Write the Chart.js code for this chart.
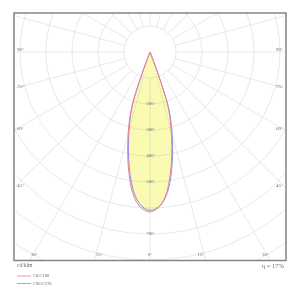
<!DOCTYPE html>
<html><head><meta charset="utf-8">
<script src="https://cdn.jsdelivr.net/npm/chart.js@4/dist/chart.umd.min.js"></script>
<style>html,body{margin:0;padding:0;background:#fff;}#wrap{width:300px;height:298px;position:relative}</style>
</head><body><div id="wrap"><canvas id="c" width="300" height="298"></canvas></div>
<script>
// gamma angles (deg from nadir) and intensities (cd/klm)
const gammaDeg = [0, 2, 4, 6, 8, 10, 12, 14, 16, 17, 18, 19, 20, 21, 22];
const c0   = [615, 608, 590, 560, 515, 460, 402, 344, 288, 260, 228, 185, 100, 25, 0];
const c180 = [615, 609, 594, 566, 524, 469, 412, 353, 296, 268, 236, 195, 110, 30, 0];
const c90  = [609, 604, 590, 564, 524, 472, 416, 358, 300, 272, 242, 200, 115, 32, 0];
const c270 = [609, 602, 584, 554, 510, 456, 398, 340, 284, 256, 224, 180, 96, 24, 0];
const seriesNames = ['C0/C180', 'C90/C270'];
const seriesColors = ['#f0809a', '#8c8cf0'];
const ringValues = [100, 200, 300, 400, 500, 600, 700, 800, 900, 1000, 1100];
const ringLabelValues = [200, 300, 400, 500, 700];
const spokeStepDeg = 15;
const sideAngleLabels = [90, 75, 60, 45];
const bottomAngleLabels = [30, 15, 0, 15, 30];
const bottomAngleSigned = [-30, -15, 0, 15, 30];
const unitLabel = 'cd/klm';
const efficiencyLabel = 'η = 17%';

function toXY(leftVals, rightVals) {
  const pts = [];
  for (let i = gammaDeg.length - 1; i >= 0; i--) {
    const t = -gammaDeg[i] * Math.PI / 180;
    pts.push({x: leftVals[i] * Math.sin(t), y: -leftVals[i] * Math.cos(t)});
  }
  for (let i = 1; i < gammaDeg.length; i++) {
    const t = gammaDeg[i] * Math.PI / 180;
    pts.push({x: rightVals[i] * Math.sin(t), y: -rightVals[i] * Math.cos(t)});
  }
  return pts;
}

const FILL = '#fafab2';
const GRID = 'rgba(165,190,185,0.3)';
const TXT = '#6a6a6a';

const polarPlugin = {
  id: 'polarGrid',
  beforeDraw(chart) {
    const {ctx, chartArea: a, scales: {x, y}} = chart;
    const cx = x.getPixelForValue(0), cy = y.getPixelForValue(0);
    const pxPer = (x.getPixelForValue(100) - cx) / 100;
    ctx.save();
    ctx.beginPath(); ctx.rect(a.left, a.top, a.right - a.left, a.bottom - a.top); ctx.clip();
    ctx.strokeStyle = GRID; ctx.lineWidth = 1;
    ringValues.forEach(v => {
      ctx.beginPath(); ctx.arc(cx, cy, v * pxPer, 0, Math.PI * 2); ctx.stroke();
    });
    const r0 = ringValues[0] * pxPer, r1 = ringValues[ringValues.length - 1] * pxPer;
    for (let d = 0; d < 360; d += spokeStepDeg) {
      const t = d * Math.PI / 180;
      ctx.beginPath();
      ctx.moveTo(cx + r0 * Math.sin(t), cy + r0 * Math.cos(t));
      ctx.lineTo(cx + r1 * Math.sin(t), cy + r1 * Math.cos(t));
      ctx.stroke();
    }
    ctx.restore();
  },
  afterDatasetsDraw(chart) {
    const {ctx, chartArea: a, scales: {x, y}} = chart;
    const cx = x.getPixelForValue(0), cy = y.getPixelForValue(0);
    ctx.save();
    ctx.fillStyle = TXT;
    ctx.font = '5px "Liberation Serif"';
    ctx.textAlign = 'center'; ctx.textBaseline = 'middle';
    ringLabelValues.forEach(v => ctx.fillText(String(v), cx, y.getPixelForValue(-v)));
    sideAngleLabels.forEach(g => {
      const t = (90 - g) * Math.PI / 180;
      const half = cx - a.left;
      const py = cy + half * Math.tan(t);
      ctx.textAlign = 'left';
      ctx.fillText(g + '°', a.left + 3, py - 2);
      ctx.textAlign = 'right';
      ctx.fillText(g + '°', a.right - 3, py - 2);
    });
    bottomAngleSigned.forEach((g, i) => {
      const t = g * Math.PI / 180;
      const px = cx + (a.bottom - cy) * Math.tan(t);
      ctx.textAlign = 'center';
      ctx.fillText(bottomAngleLabels[i] + '°', px - Math.sign(g) * 5, a.bottom - 6);
    });
    ctx.restore();
  },
  afterDraw(chart) {
    const {ctx, chartArea: a} = chart;
    ctx.save();
    ctx.strokeStyle = '#7d878c'; ctx.lineWidth = 1.5;
    ctx.strokeRect(a.left, a.top, a.right - a.left, a.bottom - a.top);
    ctx.fillStyle = TXT;
    ctx.textBaseline = 'middle';
    ctx.font = '5.5px "Liberation Serif"';
    ctx.textAlign = 'left';
    ctx.fillText(unitLabel, a.left + 3, a.bottom + 5);
    ctx.font = '6.5px "Liberation Serif"';
    ctx.textAlign = 'right';
    ctx.fillText(efficiencyLabel, a.right - 2, a.bottom + 5.5);
    ctx.font = '4.5px "Liberation Serif"';
    ctx.textAlign = 'left';
    chart.data.datasets.forEach((ds, i) => {
      const ly = a.bottom + 15.5 + i * 7.5;
      ctx.strokeStyle = ds.borderColor; ctx.lineWidth = 0.8;
      ctx.beginPath(); ctx.moveTo(a.left + 3, ly); ctx.lineTo(a.left + 17, ly); ctx.stroke();
      ctx.fillText(ds.label, a.left + 19, ly);
    });
    ctx.restore();
  }
};

new Chart(document.getElementById('c'), {
  type: 'scatter',
  data: {
    datasets: [
      {label: seriesNames[0], data: toXY(c180, c0), borderColor: seriesColors[0], backgroundColor: FILL, fill: 'shape'},
      {label: seriesNames[1], data: toXY(c270, c90), borderColor: seriesColors[1], backgroundColor: FILL, fill: 'shape'}
    ]
  },
  options: {
    responsive: false, animation: false,
    layout: {padding: {left: 14, right: 14, top: 13, bottom: 37.5}},
    elements: {line: {borderWidth: 1, tension: 0.35}, point: {radius: 0, hoverRadius: 0}},
    datasets: {scatter: {showLine: true}},
    scales: {
      x: {type: 'linear', min: -523, max: 523, display: false},
      y: {type: 'linear', min: -802, max: 150, display: false}
    },
    plugins: {legend: {display: false}, tooltip: {enabled: false}, filler: {drawTime: 'beforeDraw'}}
  },
  plugins: [polarPlugin]
});
</script></body></html>
